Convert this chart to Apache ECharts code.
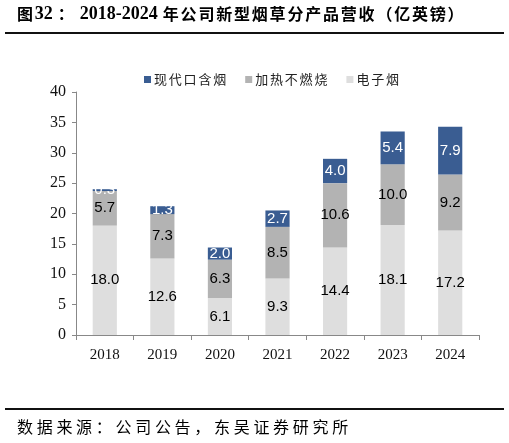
<!DOCTYPE html>
<html>
<head>
<meta charset="utf-8">
<script src="https://cdn.jsdelivr.net/npm/echarts@6/dist/echarts.min.js"></script>
<style>
  html, body { margin: 0; padding: 0; background: #fff; }
  #chart { width: 509px; height: 443px; }
</style>
</head>
<body>
<div id="chart"></div>
<script>
const years = ['2018', '2019', '2020', '2021', '2022', '2023', '2024'];
const vapour = [18.0, 12.6, 6.1, 9.3, 14.4, 18.1, 17.2];
const heated = [5.7, 7.3, 6.3, 8.5, 10.6, 10.0, 9.2];
const oral = [0.3, 1.3, 2.0, 2.7, 4.0, 5.4, 7.9];

const serif = '"Liberation Serif", "Times New Roman", serif';
const cjk = '"Noto Sans CJK SC", sans-serif';

// wrap every CJK character in its own rich block so it gets a fixed advance
function spaced(str, key) {
    return Array.from(str).map(ch => /[\u0000-\u00ff]/.test(ch) ? ch : '{' + key + '|' + ch + '}').join('');
}

const chart = echarts.init(document.getElementById('chart'));

function bar(name, data, color, labelColor) {
    return {
        name: name,
        type: 'bar',
        stack: 'total',
        barWidth: '42%',
        data: data,
        itemStyle: { color: color },
        label: {
            show: true,
            position: 'inside',
            color: labelColor,
            fontFamily: '"Liberation Sans", Arial, sans-serif',
            fontSize: 15,
            formatter: p => p.value.toFixed(1)
        }
    };
}

chart.setOption({
    animation: false,
    graphic: [
        {
            type: 'text', left: 17, top: 5,
            style: {
                text: '{c|图}{n|32}{p|：}{n|2018-2024}' + spaced('年公司新型烟草分产品营收（亿英镑）', 'c'),
                rich: {
                    c: { width: 17.8, fontFamily: cjk, fontWeight: 'bold', fontSize: 16, color: '#1f3864' },
                    p: { width: 22, fontFamily: cjk, fontWeight: 'bold', fontSize: 16, color: '#1f3864' },
                    n: { fontFamily: serif, fontWeight: 'bold', fontSize: 18, color: '#1f3864', padding: [0, 5, 0, 0] }
                }
            }
        },
        { type: 'rect', shape: { x: 5, y: 32, width: 499, height: 2 }, style: { fill: '#111' } },
        { type: 'rect', shape: { x: 5, y: 408, width: 499, height: 2 }, style: { fill: '#111' } },
        {
            type: 'text', left: 17, top: 419,
            style: {
                text: spaced('数据来源：公司公告，东吴证券研究所', 'f'),
                rich: {
                    f: { width: 19.7, fontFamily: cjk, fontSize: 16, color: '#222' }
                }
            }
        }
    ],
    legend: {
        top: 68,
        left: 139,
        itemWidth: 7,
        itemHeight: 7,
        itemGap: 19,
        icon: 'rect',
        formatter: name => spaced(name, 'l'),
        textStyle: {
            padding: [0, 0, 0, -2],
            rich: {
                l: { width: 14.8, fontFamily: cjk, fontSize: 13, color: '#222' }
            }
        },
        data: ['现代口含烟', '加热不燃烧', '电子烟']
    },
    grid: { left: 76, right: 30, top: 92, bottom: 108 },
    xAxis: {
        type: 'category',
        data: years,
        axisLine: { lineStyle: { color: '#888' } },
        axisTick: { show: true, length: 5, lineStyle: { color: '#888' } },
        axisLabel: { fontFamily: serif, fontSize: 15, color: '#111', margin: 13 }
    },
    yAxis: {
        type: 'value',
        min: 0,
        max: 40,
        interval: 5,
        splitLine: { show: false },
        axisLine: { show: true, lineStyle: { color: '#888' } },
        axisTick: { show: true, length: 4, lineStyle: { color: '#888' } },
        axisLabel: { fontFamily: serif, fontSize: 16, color: '#111', margin: 10 }
    },
    series: [
        bar('电子烟', vapour, '#dedede', '#000'),
        bar('加热不燃烧', heated, '#b3b3b3', '#000'),
        bar('现代口含烟', oral, '#3a5d92', '#fff')
    ]
});
</script>
</body>
</html>
